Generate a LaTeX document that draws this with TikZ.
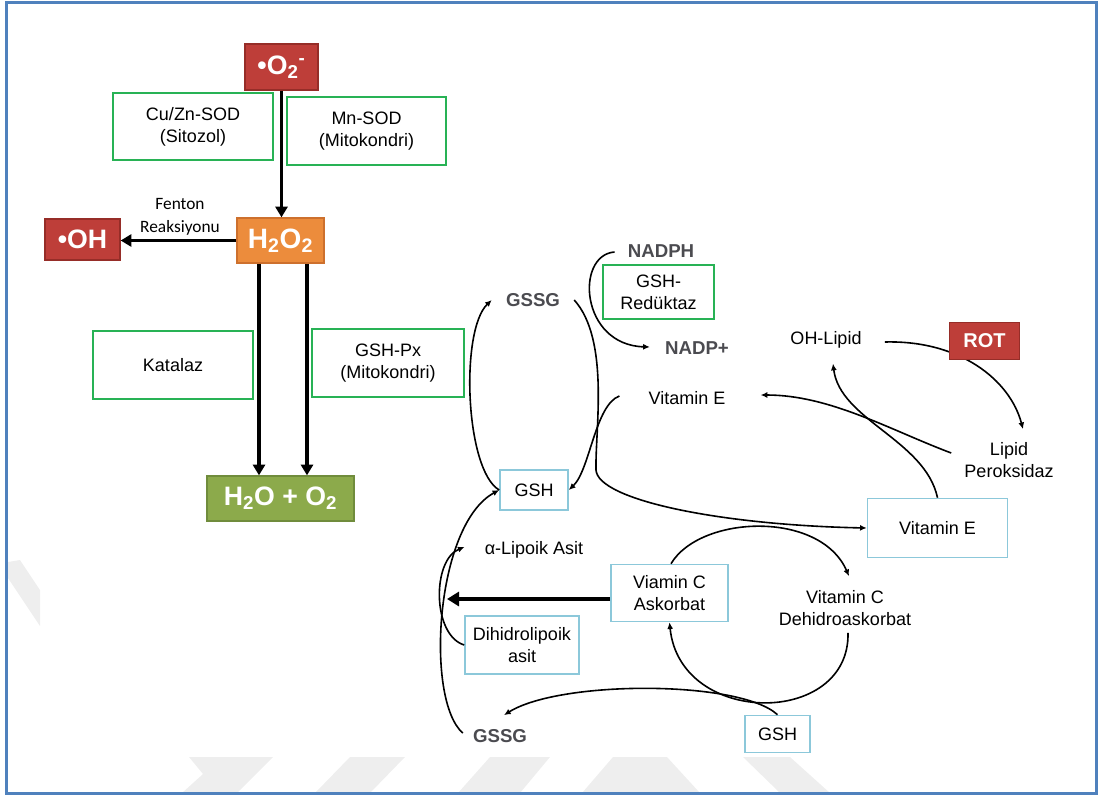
\documentclass[tikz,border=0pt]{standalone}
\usepackage{fontspec}
\setmainfont{Liberation Sans}
\newfontfamily\fentonfont{Carlito}
\usetikzlibrary{arrows.meta,calc}
\definecolor{frameblue}{RGB}{79,129,189}
\definecolor{boxred}{RGB}{190,62,57}
\definecolor{boxredd}{RGB}{150,45,40}
\definecolor{boxorange}{RGB}{236,140,60}
\definecolor{boxoranged}{RGB}{205,112,45}
\definecolor{boxgreenf}{RGB}{140,170,75}
\definecolor{boxgreend}{RGB}{112,140,60}
\definecolor{boxgreen}{RGB}{40,178,85}
\definecolor{boxblue}{RGB}{140,200,218}
\definecolor{chemgray}{RGB}{75,75,80}
\definecolor{wmark}{RGB}{238,238,238}
\tikzset{
  sz/.style 2 args={minimum width=#1*0.75pt, minimum height=#2*0.75pt},
  lbl/.style={font=\fontsize{13.5}{16.5}\selectfont, align=center, inner sep=0pt},
  gbox/.style={lbl, draw=boxgreen, line width=1.1pt, fill=white},
  bbox/.style={lbl, draw=boxblue, line width=1.2pt, fill=white},
  chem/.style={font=\fontsize{14}{16}\selectfont\bfseries, text=chemgray, inner sep=0pt},
  colbox/.style={font=\fontsize{20}{22}\selectfont\bfseries, text=white, inner sep=0pt, line width=1pt},
  thickarr/.style={line width=2.8pt, -{Triangle[length=8pt,width=9pt]}},
  biglarr/.style={line width=3.6pt, -{Triangle[length=9pt,width=10.5pt]}},
  thinarr/.style={line width=1.2pt, -{Latex[length=5pt,width=4.5pt]}},
  wm/.style={fill=wmark, draw=none}
}
\begin{document}
\begin{tikzpicture}[x=0.75pt,y=-0.75pt]
\useasboundingbox (0,0) rectangle (1099,796);
% faint watermark shapes
\fill[wm] (8,562) -- (20,560) -- (40,590) -- (40,626) -- (8,578) -- cycle;
\fill[wm] (189,757) -- (273,757) -- (237,793) -- (182,793) -- (203,774) -- cycle;
\fill[wm] (350,757) -- (405,757) -- (370,793) -- (315,793) -- cycle;
\fill[wm] (490,757) -- (550,757) -- (520,793) -- (458,793) -- cycle;
\fill[wm] (613,757) -- (667,757) -- (700,793) -- (582,793) -- cycle;
\fill[wm] (743,757) -- (790,757) -- (830,793) -- (780,793) -- cycle;
% frame
\draw[frameblue, line width=2.25pt] (6,2) rectangle (1096,793);

% ---------- left part ----------
\node[colbox, fill=boxred, draw=boxredd, sz={73}{46}] (o2) at (281.5,67) {•O\textsubscript{2}\textsuperscript{-}};
\node[gbox, sz={160}{67}] (cuzn) at (193,126.5) {Cu/Zn-SOD\\(Sitozol)};
\node[gbox, sz={159}{68}] (mnsod) at (366.5,131) {Mn-SOD\\(Mitokondri)};
\node[colbox, font=\fontsize{21}{23}\selectfont\bfseries, fill=boxorange, draw=boxoranged, sz={87}{45}] (h2o2) at (280.5,240.5) {H\textsubscript{2}O\textsubscript{2}};
\node[colbox, fill=boxred, draw=boxredd, sz={75}{41}] (oh) at (82.5,239.5) {•OH};
\node[font=\fentonfont\fontsize{13}{17}\selectfont, align=center, inner sep=0pt] (fenton) at (180,216.5) {Fenton\\Reaksiyonu};
\node[gbox, sz={160}{68}] (katalaz) at (173,365) {Katalaz};
\node[gbox, sz={152}{68}] (gshpx) at (388,363) {GSH-Px\\(Mitokondri)};
\node[colbox, fill=boxgreenf, draw=boxgreend, sz={147}{45}] (h2oo2) at (280.5,498.5) {H\textsubscript{2}O + O\textsubscript{2}};

\coordinate (c1) at (259,0);
\coordinate (c2) at (307,0);
\draw[thickarr] (o2.south) -- (o2.south |- h2o2.north);
\draw[thickarr] (h2o2.west) -- (h2o2.west -| oh.east);
\draw[thickarr] (h2o2.south -| c1) -- (h2oo2.north -| c1);
\draw[thickarr] (h2o2.south -| c2) -- (h2oo2.north -| c2);

% ---------- right part ----------
\node[chem] (nadph) at (661,251) {NADPH};
\node[gbox, sz={111}{54}] (gshred) at (658.5,292) {GSH-\\Redüktaz};
\node[chem] (gssgT) at (533,300) {GSSG};
\node[chem] (nadp) at (697,348) {NADP+};
\node[lbl] (ohlipid) at (826,340) {OH-Lipid};
\node[lbl] (vitEa) at (687,398) {Vitamin E};
\node[lbl] (lipper) at (1009,460) {Lipid\\Peroksidaz};
\node[bbox, sz={68}{40}] (gsha) at (534,490) {GSH};
\node[bbox, sz={140}{59}] (vitEb) at (937.5,528) {Vitamin E};
\node[lbl] (alip) at (534,550) {α-Lipoik Asit};
\node[bbox, sz={117}{57}] (vitC) at (669.5,593) {Viamin C\\Askorbat};
\node[lbl] (dehidro) at (845,608) {Vitamin C\\Dehidroaskorbat};
\node[bbox, sz={114}{58}] (dihidro) at (522,645) {Dihidrolipoik\\asit};
\node[chem] (gssgB) at (500,736) {GSSG};
\node[bbox, sz={65}{37}] (gshb) at (777.5,734) {GSH};

% NADPH -> NADP+
\draw[thinarr] ($(nadph.west)+(-13,1)$) .. controls (575,255) and (580,345) .. ($(nadp.west)+(-15,-1)$);
% GSSG -> Vitamin E box
\draw[thinarr] ($(gssgT.east)+(14,0)$) .. controls (610,340) and (595,430) .. (596,470) .. controls (598,500) and (720,525) .. (vitEb.west);
% Vitamin E -> GSH
\draw[thinarr] ($(vitEa.west)+(-29,-2)$) .. controls (595,405) and (590,470) .. (gsha.east);
% GSH -> GSSG (top)
\draw[thinarr] (gsha.west) .. controls (465,470) and (460,330) .. ($(gssgT.west)+(-14,0)$);
% GSSG (bottom) -> GSH
\draw[thinarr] ($(gssgB.west)+(-10,-3)$) .. controls (425,700) and (435,525) .. (gsha.west);
% Dihidrolipoik -> alpha-Lipoik
\draw[thinarr] (dihidro.west) .. controls (432,635) and (432,560) .. ($(alip.west)+(-20,-3)$);
% Vitamin C -> left
\coordinate (lipend) at (447,599);
\draw[biglarr] ($(vitC.west)+(0,6)$) -- (lipend);
% Askorbat -> Dehidroaskorbat
\draw[thinarr] ($(vitC.north)+(1.5,0)$) .. controls (700,515) and (820,510) .. ($(dehidro.north)+(4,-14)$);
% Dehidroaskorbat -> Askorbat
\draw[thinarr] ($(dehidro.south)+(3,7)$) .. controls (850,727) and (680,727) .. (vitC.south);
% GSH -> GSSG (bottom)
\draw[thinarr] (gshb.north) .. controls (740,680) and (560,680) .. ($(gssgB.north)+(4,-14)$);
% OH-Lipid -> Lipid Peroksidaz (behind ROT)
\draw[thinarr] ($(ohlipid.east)+(23,2)$) .. controls (960,340) and (1010,380) .. ($(lipper.north)+(14,-13)$);
\node[colbox, font=\fontsize{15}{17}\selectfont\bfseries, fill=boxred, draw=boxredd, sz={70}{37}] (rot) at (984.5,341) {ROT};
% Lipid Peroksidaz -> Vitamin E
\draw[thinarr] ($(lipper.west)+(-13,-7)$) .. controls (890,430) and (830,395) .. ($(vitEa.east)+(35,-3)$);
% Vitamin E box -> OH-Lipid
\draw[thinarr] (vitEb.north) .. controls (925,440) and (840,420) .. ($(ohlipid.south)+(7,15)$);
\end{tikzpicture}
\end{document}
